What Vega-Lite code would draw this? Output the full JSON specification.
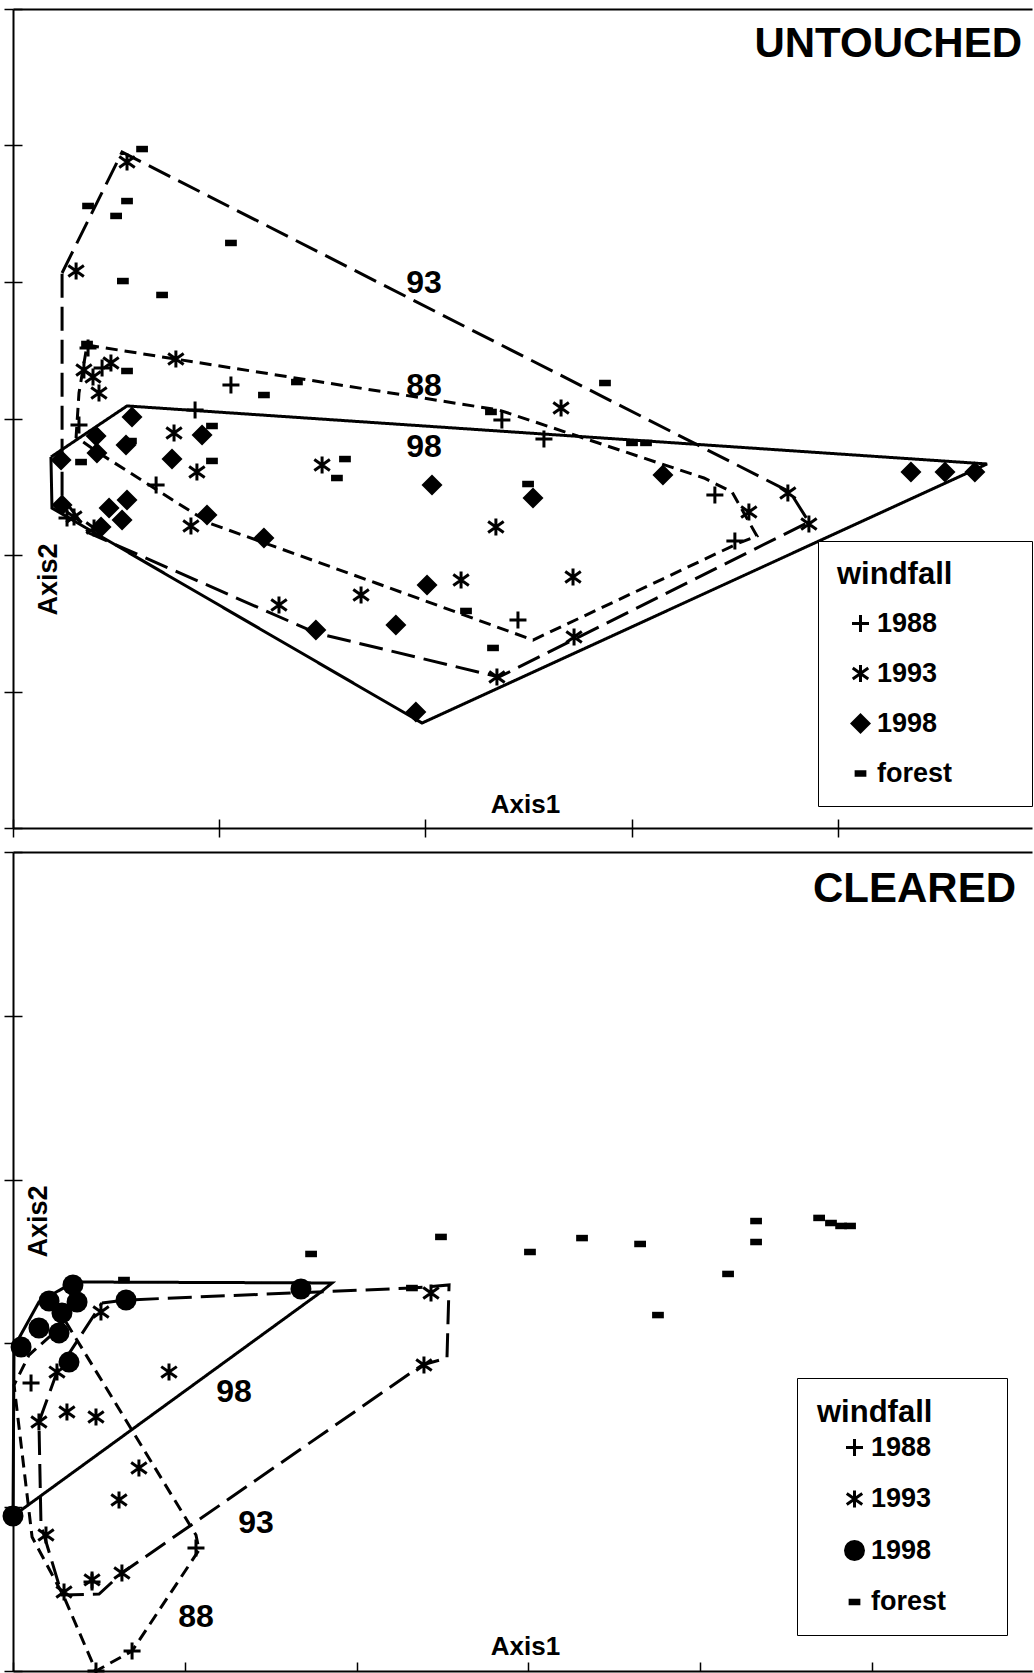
{
  "$schema": "https://vega.github.io/schema/vega-lite/v6.json",
  "padding": {"left": 2, "top": 8, "right": 0, "bottom": 0},
  "background": "white",
  "bounds": "flush",
  "spacing": 24,
  "config": {
    "view": {"stroke": null},
    "font": "Liberation Sans",
    "axis": {"labels": false, "grid": false, "domainColor": "black", "domainWidth": 2, "tickColor": "black", "tickWidth": 1.5, "tickSize": 9, "titleFont": "Liberation Sans", "titleFontWeight": "bold", "titleColor": "black", "titleFontSize": 26},
    "legend": {"orient": "none", "titleFont": "Liberation Sans", "titleFontWeight": "bold", "titleFontSize": 31, "titleColor": "black", "labelFont": "Liberation Sans", "labelFontWeight": "bold", "labelFontSize": 27, "labelColor": "black", "strokeColor": "black", "fillColor": "white", "symbolFillColor": "black", "symbolStrokeWidth": 0, "symbolSize": 441, "rowPadding": 22, "labelLimit": 400}
  },
  "datasets": {
    "top_pts": [
      {"a1":0.626,"a2":4.974,"g":"forest"},{"a1":0.364,"a2":4.557,"g":"forest"},{"a1":0.500,"a2":4.484,"g":"forest"},{"a1":0.553,"a2":4.593,"g":"forest"},{"a1":1.057,"a2":4.286,"g":"forest"},{"a1":0.533,"a2":4.007,"g":"forest"},{"a1":0.723,"a2":3.905,"g":"forest"},{"a1":0.359,"a2":3.546,"g":"forest"},{"a1":0.553,"a2":3.348,"g":"forest"},{"a1":1.217,"a2":3.172,"g":"forest"},{"a1":1.377,"a2":3.267,"g":"forest"},{"a1":2.318,"a2":3.048,"g":"forest"},{"a1":2.871,"a2":3.260,"g":"forest"},{"a1":0.965,"a2":2.945,"g":"forest"},{"a1":0.965,"a2":2.689,"g":"forest"},{"a1":0.330,"a2":2.681,"g":"forest"},{"a1":1.610,"a2":2.703,"g":"forest"},{"a1":1.571,"a2":2.564,"g":"forest"},{"a1":2.498,"a2":2.520,"g":"forest"},{"a1":2.197,"a2":1.590,"g":"forest"},{"a1":2.328,"a2":1.319,"g":"forest"},{"a1":3.002,"a2":2.821,"g":"forest"},{"a1":3.070,"a2":2.821,"g":"forest"},{"a1":0.572,"a2":2.835,"g":"forest"},
      {"a1":0.553,"a2":4.879,"g":"1993"},{"a1":0.306,"a2":4.081,"g":"1993"},{"a1":0.344,"a2":3.355,"g":"1993"},{"a1":0.388,"a2":3.304,"g":"1993"},{"a1":0.417,"a2":3.187,"g":"1993"},{"a1":0.475,"a2":3.407,"g":"1993"},{"a1":0.790,"a2":3.436,"g":"1993"},{"a1":0.781,"a2":2.894,"g":"1993"},{"a1":0.892,"a2":2.608,"g":"1993"},{"a1":1.499,"a2":2.659,"g":"1993"},{"a1":0.296,"a2":2.278,"g":"1993"},{"a1":0.393,"a2":2.198,"g":"1993"},{"a1":0.863,"a2":2.212,"g":"1993"},{"a1":2.342,"a2":2.205,"g":"1993"},{"a1":2.173,"a2":1.817,"g":"1993"},{"a1":1.688,"a2":1.707,"g":"1993"},{"a1":1.290,"a2":1.634,"g":"1993"},{"a1":2.347,"a2":1.106,"g":"1993"},{"a1":2.658,"a2":3.077,"g":"1993"},{"a1":3.758,"a2":2.454,"g":"1993"},{"a1":3.860,"a2":2.227,"g":"1993"},{"a1":3.569,"a2":2.315,"g":"1993"},{"a1":2.716,"a2":1.839,"g":"1993"},{"a1":2.721,"a2":1.399,"g":"1993"},
      {"a1":0.364,"a2":3.516,"g":"1988"},{"a1":0.432,"a2":3.370,"g":"1988"},{"a1":1.057,"a2":3.245,"g":"1988"},{"a1":0.883,"a2":3.062,"g":"1988"},{"a1":0.320,"a2":2.952,"g":"1988"},{"a1":0.694,"a2":2.513,"g":"1988"},{"a1":0.262,"a2":2.271,"g":"1988"},{"a1":2.449,"a2":1.524,"g":"1988"},{"a1":2.371,"a2":2.989,"g":"1988"},{"a1":2.575,"a2":2.850,"g":"1988"},{"a1":3.404,"a2":2.440,"g":"1988"},{"a1":3.501,"a2":2.103,"g":"1988"},
      {"a1":0.577,"a2":3.011,"g":"1998"},{"a1":0.403,"a2":2.872,"g":"1998"},{"a1":0.548,"a2":2.806,"g":"1998"},{"a1":0.407,"a2":2.747,"g":"1998"},{"a1":0.233,"a2":2.696,"g":"1998"},{"a1":0.917,"a2":2.879,"g":"1998"},{"a1":0.771,"a2":2.703,"g":"1998"},{"a1":0.238,"a2":2.366,"g":"1998"},{"a1":0.466,"a2":2.344,"g":"1998"},{"a1":0.553,"a2":2.403,"g":"1998"},{"a1":0.529,"a2":2.256,"g":"1998"},{"a1":0.427,"a2":2.205,"g":"1998"},{"a1":0.941,"a2":2.293,"g":"1998"},{"a1":1.217,"a2":2.125,"g":"1998"},{"a1":2.032,"a2":2.513,"g":"1998"},{"a1":2.008,"a2":1.780,"g":"1998"},{"a1":1.857,"a2":1.487,"g":"1998"},{"a1":1.469,"a2":1.451,"g":"1998"},{"a1":1.954,"a2":0.850,"g":"1998"},{"a1":3.152,"a2":2.586,"g":"1998"},{"a1":2.522,"a2":2.418,"g":"1998"},{"a1":4.355,"a2":2.608,"g":"1998"},{"a1":4.520,"a2":2.608,"g":"1998"},{"a1":4.665,"a2":2.608,"g":"1998"}
    ],
    "top_hull": [
      {"h":"98","i":0,"a1":0.184,"a2":2.718},{"h":"98","i":1,"a1":0.553,"a2":3.092},{"h":"98","i":2,"a1":4.724,"a2":2.667},{"h":"98","i":3,"a1":1.984,"a2":0.769},{"h":"98","i":4,"a1":0.189,"a2":2.344},{"h":"98","i":5,"a1":0.184,"a2":2.718},
      {"h":"93","i":0,"a1":0.238,"a2":4.066},{"h":"93","i":1,"a1":0.529,"a2":4.952},{"h":"93","i":2,"a1":3.768,"a2":2.462},{"h":"93","i":3,"a1":3.860,"a2":2.242},{"h":"93","i":4,"a1":2.357,"a2":1.106},{"h":"93","i":5,"a1":1.469,"a2":1.429},{"h":"93","i":6,"a1":0.369,"a2":2.161},{"h":"93","i":7,"a1":0.238,"a2":2.425},{"h":"93","i":8,"a1":0.238,"a2":4.066},
      {"h":"88","i":0,"a1":0.359,"a2":3.538},{"h":"88","i":1,"a1":2.357,"a2":3.062},{"h":"88","i":2,"a1":3.351,"a2":2.564},{"h":"88","i":3,"a1":3.487,"a2":2.462},{"h":"88","i":4,"a1":3.608,"a2":2.139},{"h":"88","i":5,"a1":3.521,"a2":2.088},{"h":"88","i":6,"a1":2.522,"a2":1.377},{"h":"88","i":7,"a1":1.760,"a2":1.795},{"h":"88","i":8,"a1":0.951,"a2":2.234},{"h":"88","i":9,"a1":0.417,"a2":2.747},{"h":"88","i":10,"a1":0.306,"a2":2.864},{"h":"88","i":11,"a1":0.320,"a2":3.187},{"h":"88","i":12,"a1":0.359,"a2":3.538}
    ],
    "top_lab": [
      {"t":"93","a1":1.993,"a2":3.993},{"t":"88","a1":1.993,"a2":3.238},{"t":"98","a1":1.993,"a2":2.791}
    ],
    "bot_pts": [
      {"a1":0.646,"a2":2.387,"g":"forest"},{"a1":1.735,"a2":2.546,"g":"forest"},{"a1":2.491,"a2":2.650,"g":"forest"},{"a1":2.322,"a2":2.338,"g":"forest"},{"a1":3.009,"a2":2.558,"g":"forest"},{"a1":3.312,"a2":2.643,"g":"forest"},{"a1":3.650,"a2":2.607,"g":"forest"},{"a1":3.754,"a2":2.173,"g":"forest"},{"a1":4.162,"a2":2.424,"g":"forest"},{"a1":4.325,"a2":2.747,"g":"forest"},{"a1":4.325,"a2":2.619,"g":"forest"},{"a1":4.692,"a2":2.766,"g":"forest"},{"a1":4.761,"a2":2.735,"g":"forest"},{"a1":4.820,"a2":2.717,"g":"forest"},{"a1":4.872,"a2":2.717,"g":"forest"},
      {"a1":0.512,"a2":2.192,"g":"1993"},{"a1":2.433,"a2":2.308,"g":"1993"},{"a1":2.392,"a2":1.868,"g":"1993"},{"a1":0.256,"a2":1.825,"g":"1993"},{"a1":0.908,"a2":1.825,"g":"1993"},{"a1":0.151,"a2":1.520,"g":"1993"},{"a1":0.314,"a2":1.581,"g":"1993"},{"a1":0.483,"a2":1.551,"g":"1993"},{"a1":0.733,"a2":1.239,"g":"1993"},{"a1":0.617,"a2":1.044,"g":"1993"},{"a1":0.192,"a2":0.830,"g":"1993"},{"a1":0.297,"a2":0.482,"g":"1993"},{"a1":0.460,"a2":0.556,"g":"1993"},{"a1":0.634,"a2":0.598,"g":"1993"},
      {"a1":0.105,"a2":1.758,"g":"1988"},{"a1":1.065,"a2":0.751,"g":"1988"},{"a1":0.693,"a2":0.122,"g":"1988"},{"a1":0.483,"a2":0.0,"g":"1988"},{"a1":0.460,"a2":0.543,"g":"1988"},
      {"a1":0.349,"a2":2.357,"g":"1998"},{"a1":0.210,"a2":2.259,"g":"1998"},{"a1":0.373,"a2":2.253,"g":"1998"},{"a1":0.285,"a2":2.186,"g":"1998"},{"a1":0.151,"a2":2.094,"g":"1998"},{"a1":0.268,"a2":2.064,"g":"1998"},{"a1":0.047,"a2":1.978,"g":"1998"},{"a1":0.326,"a2":1.886,"g":"1998"},{"a1":0.658,"a2":2.265,"g":"1998"},{"a1":1.676,"a2":2.332,"g":"1998"},{"a1":0.0,"a2":0.946,"g":"1998"}
    ],
    "bot_hull": [
      {"h":"98","i":0,"a1":0.0,"a2":0.946},{"h":"98","i":1,"a1":0.006,"a2":1.978},{"h":"98","i":2,"a1":0.151,"a2":2.253},{"h":"98","i":3,"a1":0.355,"a2":2.375},{"h":"98","i":4,"a1":1.857,"a2":2.369},{"h":"98","i":5,"a1":1.793,"a2":2.314},{"h":"98","i":6,"a1":0.0,"a2":0.946},
      {"h":"93","i":0,"a1":0.518,"a2":2.247},{"h":"93","i":1,"a1":0.658,"a2":2.265},{"h":"93","i":2,"a1":2.322,"a2":2.338},{"h":"93","i":3,"a1":2.538,"a2":2.357},{"h":"93","i":4,"a1":2.526,"a2":1.911},{"h":"93","i":5,"a1":2.381,"a2":1.868},{"h":"93","i":6,"a1":0.634,"a2":0.598},{"h":"93","i":7,"a1":0.501,"a2":0.470},{"h":"93","i":8,"a1":0.285,"a2":0.464},{"h":"93","i":9,"a1":0.163,"a2":0.891},{"h":"93","i":10,"a1":0.151,"a2":1.520},{"h":"93","i":11,"a1":0.256,"a2":1.825},{"h":"93","i":12,"a1":0.518,"a2":2.247},
      {"h":"88","i":0,"a1":0.308,"a2":2.131},{"h":"88","i":1,"a1":1.065,"a2":0.830},{"h":"88","i":2,"a1":1.083,"a2":0.739},{"h":"88","i":3,"a1":0.693,"a2":0.122},{"h":"88","i":4,"a1":0.483,"a2":0.0},{"h":"88","i":5,"a1":0.297,"a2":0.452},{"h":"88","i":6,"a1":0.111,"a2":0.818},{"h":"88","i":7,"a1":0.006,"a2":1.746},{"h":"88","i":8,"a1":0.093,"a2":1.929},{"h":"88","i":9,"a1":0.308,"a2":2.131}
    ],
    "bot_lab": [
      {"t":"98","a1":1.286,"a2":1.703},{"t":"93","a1":1.414,"a2":0.904},{"t":"88","a1":1.065,"a2":0.330}
    ]
  },
  "vconcat": [
    {
      "width": 1019,
      "height": 819,
      "title": {"text": "UNTOUCHED", "anchor": "end", "frame": "group", "orient": "top", "offset": -58, "baseline": "top", "fontSize": 42, "fontWeight": "bold", "font": "Liberation Sans", "color": "black", "dx": -10},
      "layer": [
        {
          "data": {"name": "top_hull"},
          "mark": {"type": "line", "stroke": "black", "strokeWidth": 3},
          "encoding": {
            "x": {"field": "a1", "type": "quantitative", "scale": {"domain": [0, 4.942], "nice": false, "zero": false},
                  "axis": {"orient": "bottom", "values": [0, 1, 2, 3, 4], "title": "Axis1", "titleX": 512, "titleY": -16, "titleAlign": "center", "titleBaseline": "alphabetic", "titleAnchor": null}},
            "y": {"field": "a2", "type": "quantitative", "scale": {"domain": [0, 6], "nice": false, "zero": false},
                  "axis": {"orient": "left", "values": [0, 1, 2, 3, 4, 5, 6], "title": "Axis2", "titleX": 43, "titleY": 570, "titleAngle": -90, "titleAlign": "center", "titleBaseline": "alphabetic", "titleFontSize": 27}},
            "order": {"field": "i", "type": "quantitative"},
            "strokeDash": {"field": "h", "type": "nominal", "scale": {"domain": ["98", "93", "88"], "range": [[1, 0], [24, 9], [12, 7]]}, "legend": null}
          }
        },
        {
          "data": {"name": "top_pts"},
          "mark": {"type": "point", "filled": true, "color": "black", "size": 441, "opacity": 1, "strokeWidth": 0},
          "encoding": {
            "x": {"field": "a1", "type": "quantitative", "axis": {"orient": "top", "ticks": false, "domain": true, "labels": false, "title": null}},
            "y": {"field": "a2", "type": "quantitative", "axis": null},
            "shape": {"field": "g", "type": "nominal",
                      "scale": {"domain": ["1988", "1993", "1998", "forest"], "range": [
                        "M-0.81,-0.143H-0.143V-0.81H0.143V-0.143H0.81V0.143H0.143V0.81H-0.143V0.143H-0.81Z",
                        "M-0.143,-0.81L0.143,-0.81L0.143,0.81L-0.143,0.81Z M-0.822,-0.403L-0.658,-0.637L0.822,0.403L0.658,0.637Z M-0.658,0.637L-0.822,0.403L0.658,-0.637L0.822,-0.403Z",
                        "diamond",
                        "M-0.56,-0.31H0.56V0.31H-0.56Z"]},
                      "legend": {"title": "windfall", "legendX": 805, "legendY": 532, "padding": 19, "titlePadding": 19, "symbolOffset": 10, "labelOffset": 3,
                                 "labelExpr": "datum.label == 'forest' ? 'forest\u2800\u2800\u2800' : datum.label"}}
          }
        },
        {
          "data": {"name": "top_lab"},
          "mark": {"type": "text", "fontSize": 32, "fontWeight": "bold", "font": "Liberation Sans", "color": "black", "align": "center", "baseline": "middle"},
          "encoding": {
            "x": {"field": "a1", "type": "quantitative", "axis": {"orient": "bottom", "values": [0, 1, 2, 3, 4], "tickSize": -9, "domain": false, "labels": false, "title": null}},
            "y": {"field": "a2", "type": "quantitative", "axis": {"orient": "left", "values": [0, 1, 2, 3, 4, 5, 6], "tickSize": -9, "domain": false, "labels": false, "title": null}},
            "text": {"field": "t", "type": "nominal"}
          }
        }
      ],
      "resolve": {"axis": {"x": "independent", "y": "independent"}}
    },
    {
      "width": 1019,
      "height": 819,
      "title": {"text": "CLEARED", "anchor": "end", "frame": "group", "orient": "top", "offset": -60, "baseline": "top", "fontSize": 42, "fontWeight": "bold", "font": "Liberation Sans", "color": "black", "dx": -16},
      "layer": [
        {
          "data": {"name": "bot_hull"},
          "mark": {"type": "line", "stroke": "black", "strokeWidth": 3},
          "encoding": {
            "x": {"field": "a1", "type": "quantitative", "scale": {"domain": [0, 5.931], "nice": false, "zero": false},
                  "axis": {"orient": "bottom", "values": [0, 1, 2, 3, 4, 5], "tickSize": -9, "title": "Axis1", "titleX": 512, "titleY": -17, "titleAlign": "center", "titleBaseline": "alphabetic", "titleAnchor": null}},
            "y": {"field": "a2", "type": "quantitative", "scale": {"domain": [0, 5], "nice": false, "zero": false},
                  "axis": {"orient": "left", "values": [0, 1, 2, 3, 4, 5], "title": "Axis2", "titleX": 33, "titleY": 369, "titleAngle": -90, "titleAlign": "center", "titleBaseline": "alphabetic", "titleFontSize": 27}},
            "order": {"field": "i", "type": "quantitative"},
            "strokeDash": {"field": "h", "type": "nominal", "scale": {"domain": ["98", "93", "88"], "range": [[1, 0], [24, 9], [12, 7]]}, "legend": null}
          }
        },
        {
          "data": {"name": "bot_pts"},
          "mark": {"type": "point", "filled": true, "color": "black", "size": 441, "opacity": 1, "strokeWidth": 0},
          "encoding": {
            "x": {"field": "a1", "type": "quantitative", "axis": {"orient": "top", "ticks": false, "domain": true, "labels": false, "title": null}},
            "y": {"field": "a2", "type": "quantitative", "axis": null},
            "shape": {"field": "g", "type": "nominal",
                      "scale": {"domain": ["1988", "1993", "1998", "forest"], "range": [
                        "M-0.81,-0.143H-0.143V-0.81H0.143V-0.143H0.81V0.143H0.143V0.81H-0.143V0.143H-0.81Z",
                        "M-0.143,-0.81L0.143,-0.81L0.143,0.81L-0.143,0.81Z M-0.822,-0.403L-0.658,-0.637L0.822,0.403L0.658,0.637Z M-0.658,0.637L-0.822,0.403L0.658,-0.637L0.822,-0.403Z",
                        "circle",
                        "M-0.56,-0.31H0.56V0.31H-0.56Z"]},
                      "legend": {"title": "windfall", "legendX": 784, "legendY": 526, "padding": 20, "titlePadding": 5, "symbolOffset": 24, "labelOffset": 3, "rowPadding": 23.5,
                                 "labelExpr": "datum.label == 'forest' ? 'forest\u2800\u2800' : datum.label"}}
          }
        },
        {
          "data": {"name": "bot_lab"},
          "mark": {"type": "text", "fontSize": 32, "fontWeight": "bold", "font": "Liberation Sans", "color": "black", "align": "center", "baseline": "middle"},
          "encoding": {
            "x": {"field": "a1", "type": "quantitative", "axis": null},
            "y": {"field": "a2", "type": "quantitative", "axis": {"orient": "left", "values": [0, 1, 2, 3, 4, 5], "tickSize": -9, "domain": false, "labels": false, "title": null}},
            "text": {"field": "t", "type": "nominal"}
          }
        }
      ],
      "resolve": {"axis": {"x": "independent", "y": "independent"}}
    }
  ],
  "resolve": {"scale": {"x": "independent", "y": "independent", "shape": "independent", "strokeDash": "independent"}, "legend": {"shape": "independent"}}
}
